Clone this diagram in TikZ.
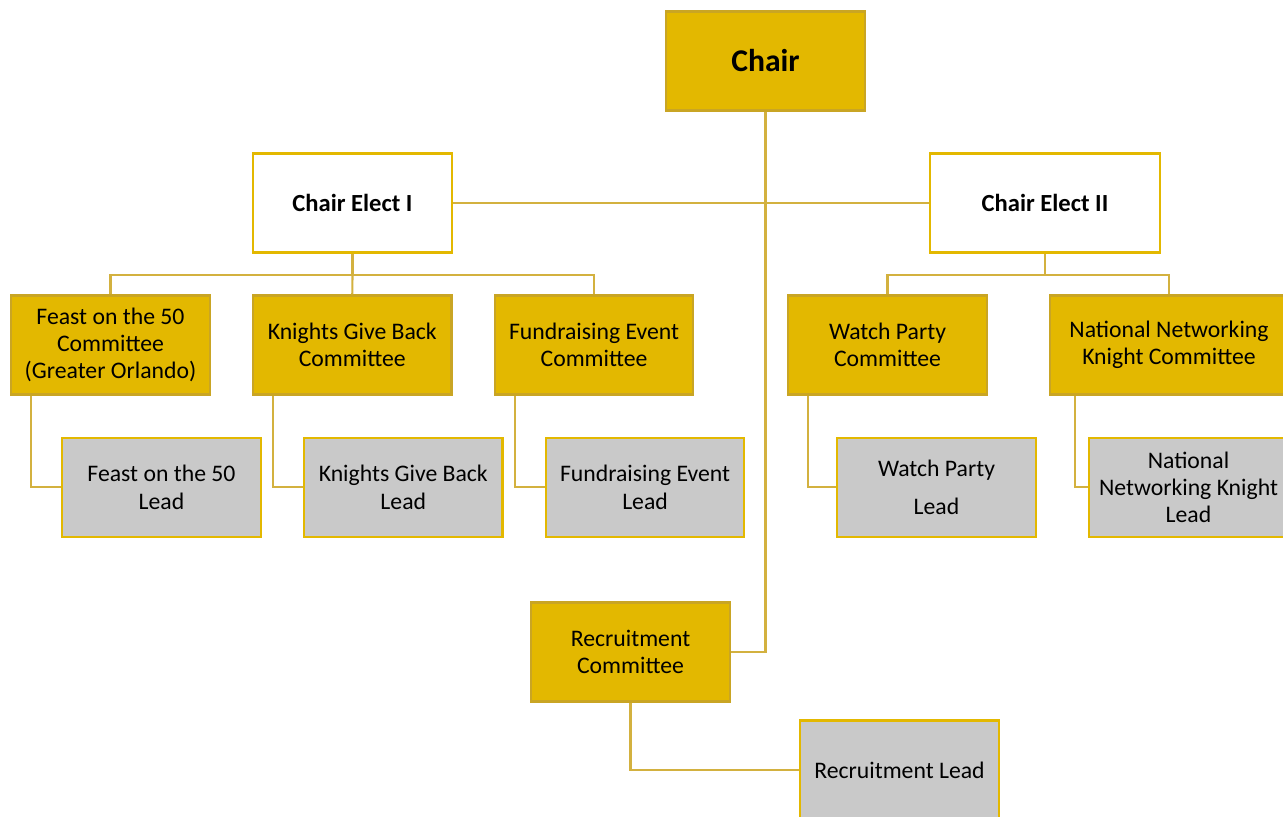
\documentclass[tikz,border=0pt]{standalone}
\usepackage{fontspec}
\setmainfont{Carlito}
\usetikzlibrary{positioning}
\definecolor{gold}{HTML}{E3B800}
\definecolor{goldedge}{HTML}{C9A524}
\definecolor{goldline}{HTML}{D3B13F}
\definecolor{leadgray}{HTML}{C9C9C9}

\begin{document}
\begin{tikzpicture}
        [box/.style={draw=goldedge, line width=1.3pt, minimum width=3.97cm, minimum height=1.98cm,
                     inner sep=2pt, align=center, font=\fontsize{13.5}{15.5}\selectfont},
         committee/.style={box, fill=gold},
         lead/.style={box, fill=leadgray, draw=gold},
         elect/.style={box, fill=white, draw=gold, font=\fontsize{14}{16}\selectfont\bfseries},
         link/.style={draw=goldline, line width=1.2pt},
         node distance=0.82cm and 0.82cm]
      \useasboundingbox (0,0) rectangle (25.66,-16.34);
      \node[committee, font=\fontsize{18}{20}\selectfont\bfseries] (chair) at (15.31,-1.22) {Chair};
      \node[elect]  (ce1) at (7.05,-4.06) {Chair Elect I};
      \node[elect, minimum width=4.6cm]  (ce2) at (20.9,-4.06) {Chair Elect II};
      \node[committee]  (feast) at (2.21,-6.9) {Feast on the 50\\Committee\\(Greater Orlando)};
      \node[committee]  (kgb)   [right=of feast] {Knights Give Back\\Committee};
      \node[committee]  (fund)  [right=of kgb] {Fundraising Event\\Committee};
      \node[committee]  (watch) at (17.75,-6.9) {Watch Party\\Committee};
      \node[committee, minimum width=4.77cm]  (nnk) at (23.38,-6.9) {National Networking\\Knight Committee};
      \node[lead]  (feastlead) [below=of feast, xshift=1.02cm] {Feast on the 50\\Lead};
      \node[lead]  (kgblead)   [below=of kgb, xshift=1.02cm] {Knights Give Back\\Lead};
      \node[lead]  (fundlead)  [below=of fund, xshift=1.02cm] {Fundraising Event\\Lead};
      \node[lead]  (watchlead) [below=of watch, xshift=0.98cm] {Watch Party\\[0.22cm]Lead};
      \node[lead]  (nnklead)   [below=of nnk, xshift=0.39cm] {National\\Networking Knight\\Lead};
      \node[committee]  (recruit) at (12.61,-13.04) {Recruitment\\Committee};
      \node[lead]  (recruitlead) at (17.99,-15.4) {Recruitment Lead};
      \draw[link] (chair.south) |- (recruit.east);
      \draw[link] (ce1.east) -- (ce2.west);
      \draw[link] (ce1.south) -- ++(0,-0.42) coordinate (bar1);
      \draw[link] (feast.north) |- (bar1) -| (fund.north);
      \draw[link] (bar1) -- (kgb.north);
      \draw[link] (ce2.south) -- ++(0,-0.42) coordinate (bar2);
      \draw[link] (watch.north) |- (bar2) -| (nnk.north);
      \draw[link] ([xshift=0.42cm]feast.south west) |- (feastlead.west);
      \draw[link] ([xshift=0.42cm]kgb.south west) |- (kgblead.west);
      \draw[link] ([xshift=0.42cm]fund.south west) |- (fundlead.west);
      \draw[link] ([xshift=0.42cm]watch.south west) |- (watchlead.west);
      \draw[link] ([xshift=0.52cm]nnk.south west) |- (nnklead.west);
      \draw[link] (recruit.south) |- (recruitlead.west);
\end{tikzpicture}
\end{document}
